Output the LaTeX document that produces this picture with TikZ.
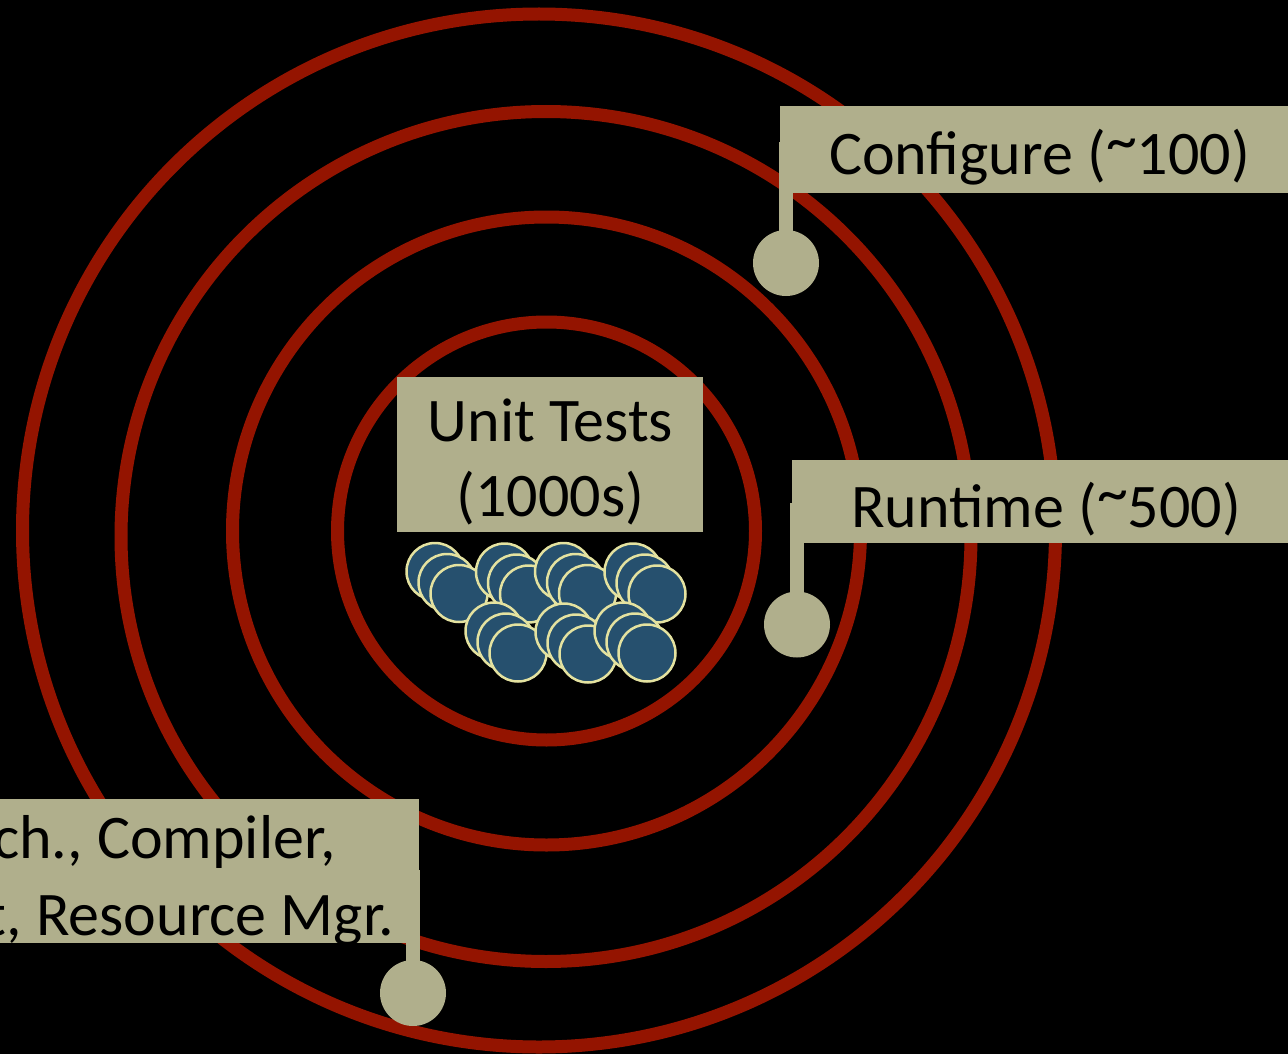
\documentclass[tikz,border=0pt]{standalone}
\usepackage{fontspec}
\setmainfont{Carlito}
\definecolor{ringred}{RGB}{148,20,0}
\definecolor{tagkhaki}{RGB}{176,175,140}
\definecolor{ballblue}{RGB}{38,80,110}
\definecolor{balledge}{RGB}{228,226,160}
\newcommand{\hightilde}{\raisebox{0.22em}{\char"7E}}
\tikzset{
  ringline/.style={circle, draw=ringred, line width=13pt, inner sep=0pt, outer sep=0pt, fill=none},
  tagbox/.style={rectangle, fill=tagkhaki, draw=none, inner sep=0pt, outer sep=0pt},
  tagdot/.style={circle, fill=tagkhaki, draw=none, inner sep=0pt, outer sep=0pt, minimum size=66pt},
  stemline/.style={draw=tagkhaki, line width=13.5pt, line cap=butt},
  tagtext/.style={inner sep=0pt, outer sep=0pt, text=black, font=\fontsize{62}{75}\selectfont},
  ballnode/.style={circle, fill=ballblue, draw=balledge, line width=2.5pt, inner sep=0pt, minimum size=57pt}
}
\begin{document}
\begin{tikzpicture}[x=1pt,y=-1pt]
\fill[black] (0,0) rectangle (1288,1054);
\useasboundingbox (0,0) rectangle (1288,1054);
\clip (0,0) rectangle (1288,1054);

% concentric rings
\node[ringline, minimum size=1033pt] (ring1) at (539,530.5) {};
\node[ringline, minimum size=850pt] (ring2) at (546,536.5) {};
\node[ringline, minimum size=628pt] (ring3) at (546.5,531) {};
\node[ringline, minimum size=418pt] (ring4) at (546.5,531) {};

% unit tests label
\node[tagbox, minimum width=306pt, minimum height=155pt] (unitbox) at (550,454.5) {};
\node[tagtext, anchor=base] (unitl1) at (550.5,441.7) {Unit Tests};
\node[tagtext, anchor=base] (unitl2) at (550.5,516.7) {(1000s)};

% unit test balls
\foreach \gx/\gy/\gn in {459/593.5/a, 528.5/594/b, 587.5/593.5/c, 657/594/d, 518/653/e, 588/654/f, 647/653/g}{
  \node[ballnode] (ball\gn1) at (\gx-24,\gy-22) {};
  \node[ballnode] (ball\gn2) at (\gx-12,\gy-11) {};
  \node[ballnode] (ball\gn3) at (\gx,\gy) {};
}

% Configure callout
\node[tagbox, minimum width=520pt, minimum height=87pt, anchor=north west] (cfgbox) at (779.5,106) {};
\node[tagtext, anchor=base] (cfgtext) at (1039.5,175) {Configure (\hightilde100)};
\node[tagdot] (cfgdot) at (786,263) {};
\coordinate (cfgtop) at (786,142);
\draw[stemline] (cfgtop) -- (cfgdot.center);

% Runtime callout
\node[tagbox, minimum width=509pt, minimum height=83pt, anchor=north west] (rtbox) at (791.7,460) {};
\node[tagtext, anchor=base] (rttext) at (1046,527) {Runtime (\hightilde500)};
\node[tagdot] (rtdot) at (797,624.5) {};
\coordinate (rttop) at (797,503);
\draw[stemline] (rttop) -- (rtdot.center);

% bottom-left callout
\node[tagbox, minimum width=719pt, minimum height=144pt, anchor=north east] (osbox) at (419,799) {};
\node[tagtext, anchor=base east] (osl1) at (336,858) {Microarch., Compiler,};
\node[tagtext, anchor=base east] (osl2) at (394,935) {Interconnect, Resource Mgr.};
\node[tagdot] (osdot) at (413,993) {};
\coordinate (ostop) at (413,870);
\draw[stemline] (ostop) -- (osdot.center);
\end{tikzpicture}
\end{document}
